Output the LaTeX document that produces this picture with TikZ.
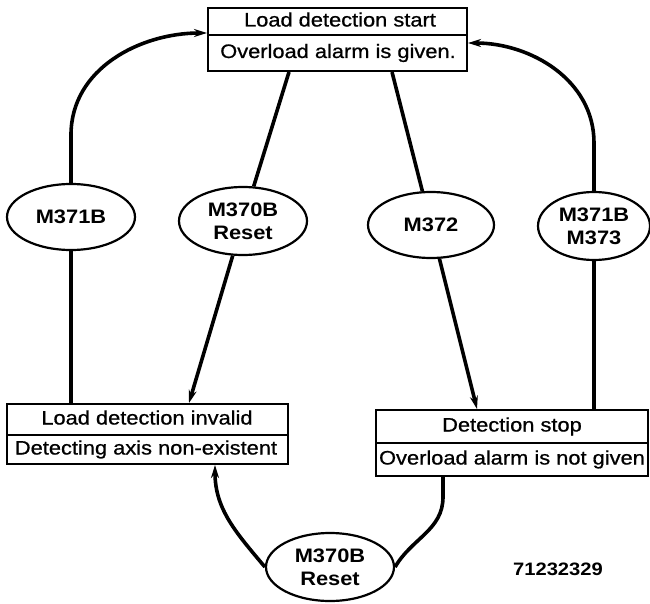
\documentclass[tikz,border=0pt]{standalone}
\usepackage{fontspec}
\setmainfont{Liberation Sans}[FakeStretch=1.12]
\newfontfamily\boxfont{Liberation Sans}[FakeStretch=1.12, FakeBold=0.8]
\usetikzlibrary{arrows.meta,shapes.geometric,calc}
\begin{document}
\begin{tikzpicture}[x=1pt,y=1pt,
  box/.style={draw, line width=2pt, inner sep=0pt, rectangle},
  divider/.style={line width=1.6pt},
  txt/.style={font=\boxfont\fontsize{19.5}{23}\selectfont, inner sep=0pt, text height=14pt, text depth=4pt},
  oval/.style={draw, ellipse, line width=2.2pt, inner sep=0pt, align=center,
               font=\fontsize{19.5}{23}\selectfont\bfseries},
  conn/.style={line width=3.6pt},
  arr/.style={conn, -{Stealth[length=13pt,width=8pt]}}]
\useasboundingbox (0,0) rectangle (650,-604);

% boxes
\node[box, minimum width=259pt, minimum height=63pt] (top) at (337.5,-39.5) {};
\draw[divider] ($(top.west)+(0,4.5)$) -- ($(top.east)+(0,4.5)$);
\node[txt] (t1) at (340,-21.5) {Load detection start};
\node[txt] (t2) at (338,-53) {Overload alarm is given.};

\node[box, minimum width=281pt, minimum height=60pt] (lbox) at (147.5,-434) {};
\draw[divider] ($(lbox.west)+(0,-1)$) -- ($(lbox.east)+(0,-1)$);
\node[txt] (l1) at (147,-419.5) {Load detection invalid};
\node[txt] (l2) at (146,-449.5) {Detecting axis non-existent};

\node[box, minimum width=272pt, minimum height=66pt] (rbox) at (512,-443) {};
\draw[divider] (rbox.west) -- (rbox.east);
\node[txt] (r1) at (512,-426.5) {Detection stop};
\node[txt] (r2) at (512,-459.5) {Overload alarm is not given};

% ellipses
\node[oval, minimum width=128pt, minimum height=66pt] (e1) at (71,-217) {M371B};
\node[oval, minimum width=128pt, minimum height=68pt] (e2) at (243,-221) {M370B\\Reset};
\node[oval, minimum width=126pt, minimum height=66pt] (e3) at (431,-225) {M372};
\node[oval, minimum width=112pt, minimum height=68pt] (e4) at (594,-226) {M371B\\M373};
\node[oval, minimum width=128pt, minimum height=68pt] (e5) at (330,-567) {M370B\\Reset};

\node[txt, font=\fontsize{18}{22}\selectfont\bfseries] (code) at (558,-570) {71232329};

% connectors
\draw[arr] (e1.north) -- ++(0,48) to[out=90,in=180] ($(top.west)+(0,6.5)$);
\draw[conn] (e1.south) -- (e1.south |- lbox.north);
\draw[conn] ($(top.south west)+(82,0)$) -- (e2);
\draw[arr] (e2) -- ($(lbox.north west)+(183,0)$);
\draw[conn] ($(top.south west)+(185,0)$) -- (e3);
\draw[arr] (e3) -- ($(rbox.north west)+(102,0)$);
\draw[conn] (e4.south |- rbox.north) -- (e4.south);
\draw[arr] (e4.north) -- ++(0,48) to[out=90,in=0] ($(top.east)+(0,-3.5)$);
\draw[conn] ($(rbox.south west)+(68,0)$) -- ++(0,-20) to[out=-90,in=60] (e5.east);
\draw[arr] (e5.west) to[out=130,in=-90] ($(lbox.south west)+(209,0)$);
\end{tikzpicture}
\end{document}
